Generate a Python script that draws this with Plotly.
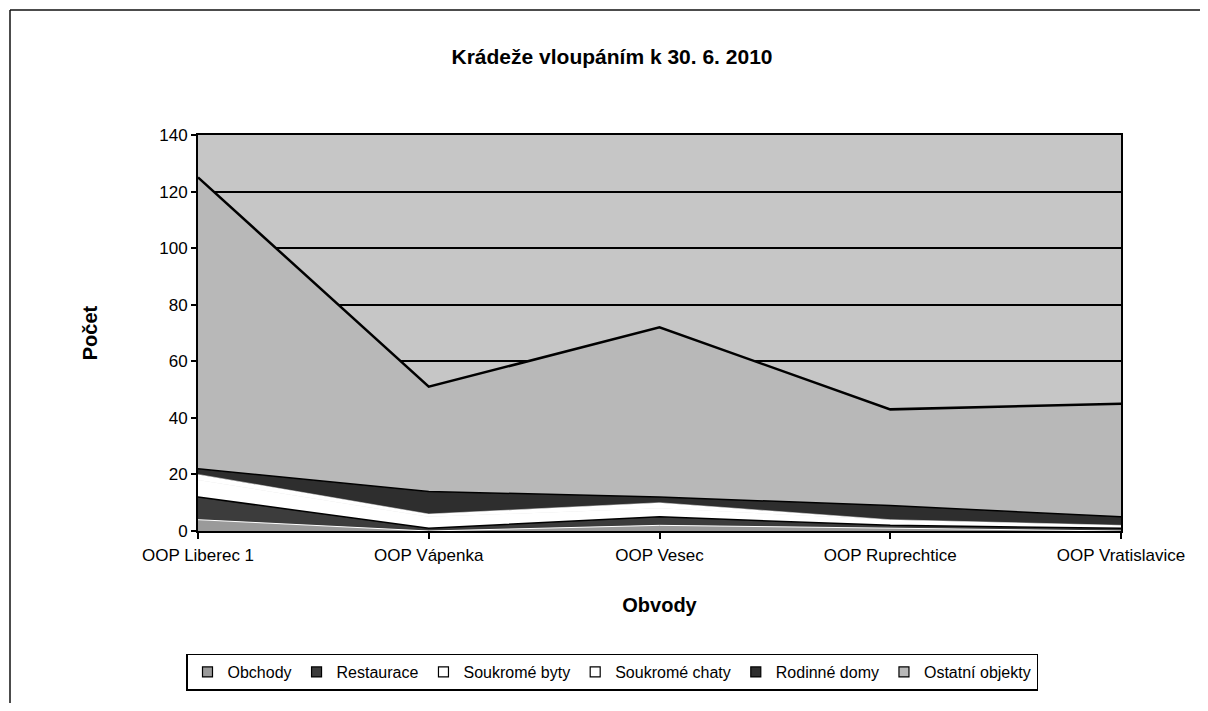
import plotly.graph_objects as go

# --- data (counts per police district) ---
obvody = ['OOP Liberec 1', 'OOP Vápenka', 'OOP Vesec', 'OOP Ruprechtice', 'OOP Vratislavice']

obchody = [4, 0, 2, 1, 0]
restaurace = [8, 1, 3, 1, 1]
soukrome_byty = [6, 4, 3, 2, 1]
soukrome_chaty = [2, 1, 2, 0, 0]
rodinne_domy = [2, 8, 2, 5, 3]
ostatni_objekty = [103, 37, 60, 34, 40]

series = [
    ('Obchody', obchody, '#9a9a9a', '#ffffff', 1),
    ('Restaurace', restaurace, '#3c3c3c', '#000000', 1.5),
    ('Soukromé byty', soukrome_byty, '#ffffff', '#ffffff', 0.5),
    ('Soukromé chaty', soukrome_chaty, '#ffffff', '#ffffff', 0.5),
    ('Rodinné domy', rodinne_domy, '#2e2e2e', '#000000', 1.5),
    ('Ostatní objekty', ostatni_objekty, '#b8b8b8', '#000000', 2.5),
]

fig = go.Figure()
for name, vals, fill, line, lw in series:
    fig.add_trace(go.Scatter(
        x=obvody, y=vals, name=name, legendgroup=name,
        mode='lines', stackgroup='one',
        fillcolor=fill,
        line=dict(color=line, width=lw),
        showlegend=False,
    ))

# square legend keys like the Excel legend
for name, vals, fill, line, lw in series:
    fig.add_trace(go.Scatter(
        x=[None], y=[None], name=name, legendgroup=name,
        mode='markers',
        marker=dict(symbol='square', size=10, color=fill,
                    line=dict(color='black', width=1.2)),
    ))

# page body adds an 8px offset, plot area is 923 x 396 px
# outer chart frame (scanned Excel chart) - only top and left edges are on the page
frame_top = (531 - 10) / 396
frame_left = -188 / 923
frame_right = (1192 - 190) / 923
fig.add_shape(type='line', xref='paper', yref='paper',
              x0=frame_left, x1=frame_right, y0=frame_top, y1=frame_top,
              line=dict(color='#111111', width=1.5))
fig.add_shape(type='line', xref='paper', yref='paper',
              x0=frame_left, x1=frame_left, y0=-0.6, y1=frame_top,
              line=dict(color='#111111', width=1.5))

# cut-off text from the page above the chart
fig.add_annotation(text='2010', xref='paper', yref='paper',
                   x=(183 - 198) / 923, y=(531 + 1) / 396,
                   xanchor='center', yanchor='middle', showarrow=False,
                   font=dict(family='Liberation Mono', size=22, color='#111111'))

fig.update_layout(
    width=1192, height=695,
    margin=dict(l=190, r=79, t=127, b=172, autoexpand=False),
    paper_bgcolor='white',
    plot_bgcolor='#c6c6c6',
    font=dict(family='Liberation Sans, Arial, sans-serif', color='black'),
    title=dict(text='<b>Krádeže vloupáním k 30. 6. 2010</b>',
               x=604 / 1192, xanchor='center',
               y=1 - 49 / 695, yanchor='middle',
               font=dict(size=21, color='black')),
    showlegend=True,
    legend=dict(orientation='h', x=(604 - 190) / 923, y=(531 - 672) / 396,
                xanchor='center', yanchor='middle',
                bordercolor='black', borderwidth=1.5,
                font=dict(size=16, color='black'),
                itemwidth=30, traceorder='normal',
                bgcolor='white'),
)

fig.update_xaxes(
    type='category', range=[0, 4], automargin=False,
    showline=True, linecolor='black', linewidth=2, mirror=True,
    ticks='outside', ticklen=6, tickcolor='black', tickwidth=1.5,
    ticklabelstandoff=2,
    tickfont=dict(size=17, color='black'),
    showgrid=False, zeroline=False,
    title=dict(text='<b>Obvody</b>', font=dict(size=20, color='black'), standoff=34),
)

fig.update_yaxes(
    range=[0, 140], dtick=20, automargin=False,
    showline=True, linecolor='black', linewidth=2, mirror=True,
    ticks='outside', ticklen=5, tickcolor='black', tickwidth=1.5,
    tickfont=dict(size=17, color='black'),
    showgrid=True, gridcolor='black', gridwidth=2, zeroline=False,
    title=dict(text='<b>Počet</b>', font=dict(size=20, color='black'), standoff=56),
)

fig.write_html('out.html')
